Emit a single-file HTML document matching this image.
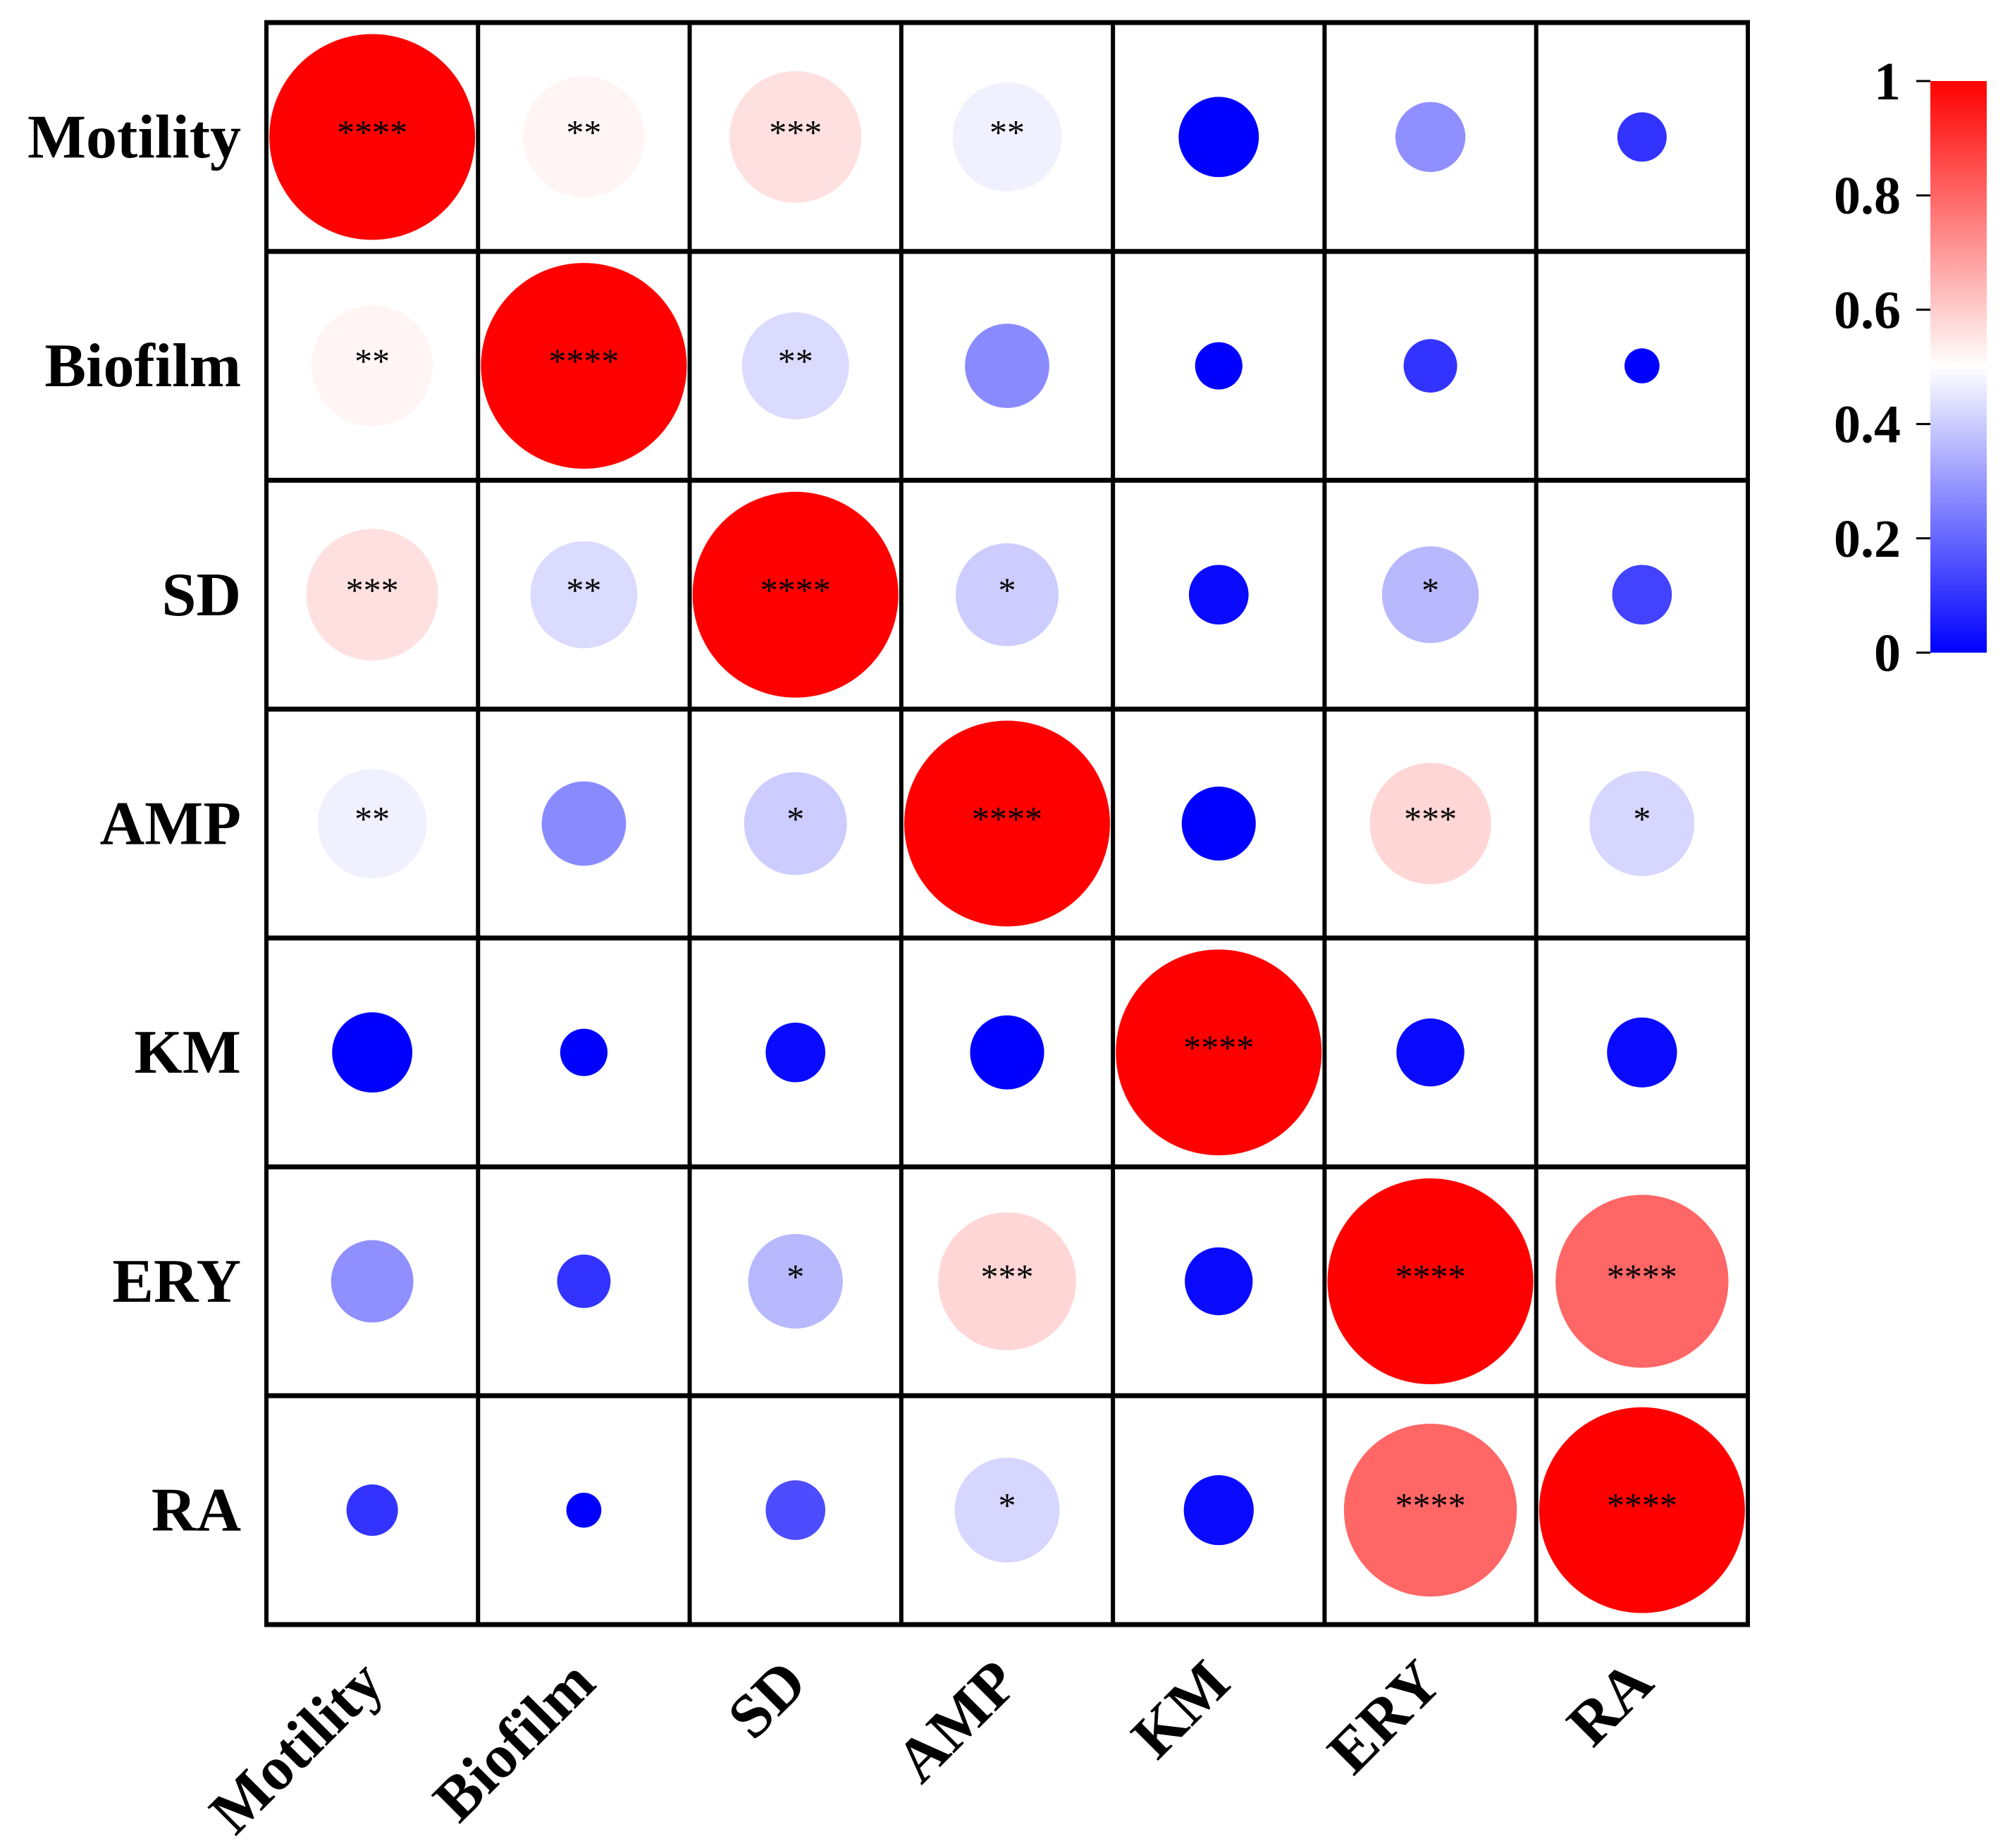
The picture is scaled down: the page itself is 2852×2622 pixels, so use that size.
<!DOCTYPE html>
<html><head><meta charset="utf-8"><style>
html,body{margin:0;padding:0;background:#fff;}
svg{display:block;}
text{font-family:"Liberation Serif",serif;}
</style></head><body>
<svg id="chart" width="2852" height="2622" viewBox="0 0 2852 2622" xmlns="http://www.w3.org/2000/svg">
<defs>
<linearGradient id="cbgrad" x1="0" y1="1" x2="0" y2="0">
<stop offset="0" stop-color="#0000ff"/>
<stop offset="0.5" stop-color="#ffffff"/>
<stop offset="1" stop-color="#ff0000"/>
</linearGradient>
</defs>
<g id="cells"></g>
<g id="grid"></g>
<g id="labels"></g>
<g id="colorbar">
<rect x="2739" y="115" width="80" height="811" fill="url(#cbgrad)"/>
</g>
</svg>
<script>
const categories = ["Motility","Biofilm","SD","AMP","KM","ERY","RA"];
const colorValues = [
 [1,0.52,0.56,0.47,0,0.28,0.1],
 [0.52,1,0.43,0.27,0,0.1,0],
 [0.56,0.43,1,0.4,0.02,0.36,0.13],
 [0.47,0.27,0.4,1,0,0.58,0.42],
 [0,0,0.02,0,1,0.02,0.02],
 [0.28,0.1,0.36,0.58,0.02,1,0.8],
 [0.1,0,0.15,0.42,0.02,0.8,1]
];
const sizeValues = [
 [1,0.59,0.64,0.53,0.39,0.34,0.24],
 [0.59,1,0.52,0.41,0.23,0.26,0.17],
 [0.64,0.52,1,0.5,0.29,0.47,0.29],
 [0.53,0.41,0.5,1,0.36,0.59,0.51],
 [0.39,0.23,0.29,0.36,1,0.33,0.34],
 [0.4,0.26,0.46,0.67,0.33,1,0.84],
 [0.25,0.17,0.29,0.51,0.34,0.84,1]
];
const stars = [
 ["****","**","***","**","","",""],
 ["**","****","**","","","",""],
 ["***","**","****","*","","*",""],
 ["**","","*","****","","***","*"],
 ["","","","","****","",""],
 ["","","*","***","","****","****"],
 ["","","","*","","****","****"]
];
const cbTicks = [0,0.2,0.4,0.6,0.8,1];
const cbTickLabels = ["0","0.2","0.4","0.6","0.8","1"];

const NS="http://www.w3.org/2000/svg";
const X0=378,X1=2480,Y0=32,Y1=2305,n=categories.length;
const cw=(X1-X0)/n, ch=(Y1-Y0)/n, dMax=292;
const xC=i=>X0+cw*(i+0.5), yC=j=>Y0+ch*(j+0.5);
const cbY=v=>926-v*811;
function col(v){let r,g,b;if(v<0.5){r=g=Math.round(510*v);b=255;}else{r=255;g=b=Math.round(510*(1-v));}return `rgb(${r},${g},${b})`;}
function mk(tag,attrs,parent){const e=document.createElementNS(NS,tag);for(const k in attrs)e.setAttribute(k,attrs[k]);parent.appendChild(e);return e;}
const cells=document.getElementById('cells'),grid=document.getElementById('grid'),labels=document.getElementById('labels'),cb=document.getElementById('colorbar');
for(let r=0;r<n;r++)for(let c=0;c<n;c++){
 const e=mk('circle',{cx:xC(c),cy:yC(r),r:sizeValues[r][c]*dMax/2,fill:col(colorValues[r][c])},cells);
 
 
 if(stars[r][c]){
  const t=mk('text',{x:xC(c),y:yC(r)+10,'text-anchor':'middle','font-size':50},cells);
  t.textContent=stars[r][c];
  
  
 }
}
for(let i=0;i<=n;i++){
 const v=mk('line',{x1:X0+cw*i,x2:X0+cw*i,y1:Y0,y2:Y1,stroke:'#000','stroke-width':6},grid);
 
 
 const h=mk('line',{x1:X0-3,x2:X1+3,y1:Y0+ch*i,y2:Y0+ch*i,stroke:'#000','stroke-width':7},grid);
 
 
}
for(let i=0;i<n;i++){
 const y=mk('text',{x:342,y:yC(i)+29,'text-anchor':'end','font-size':88,'font-weight':'bold'},labels);
 y.textContent=categories[i];
 
 
 const ax=xC(i)+20, ay=2392;
 const x=mk('text',{x:ax,y:ay,'text-anchor':'end','font-size':88,'font-weight':'bold',transform:`rotate(-45 ${ax} ${ay})`},labels);
 x.textContent=categories[i];
 
 
}
cbTicks.forEach((v,k)=>{
 const l=mk('line',{x1:2719,x2:2739,y1:cbY(v),y2:cbY(v),stroke:'#000','stroke-width':3},cb);
 
 
 const t=mk('text',{x:2697,y:cbY(v)+26,'text-anchor':'end','font-size':76,'font-weight':'bold'},cb);
 t.textContent=cbTickLabels[k];
 
 
});
</script>
</body></html>
